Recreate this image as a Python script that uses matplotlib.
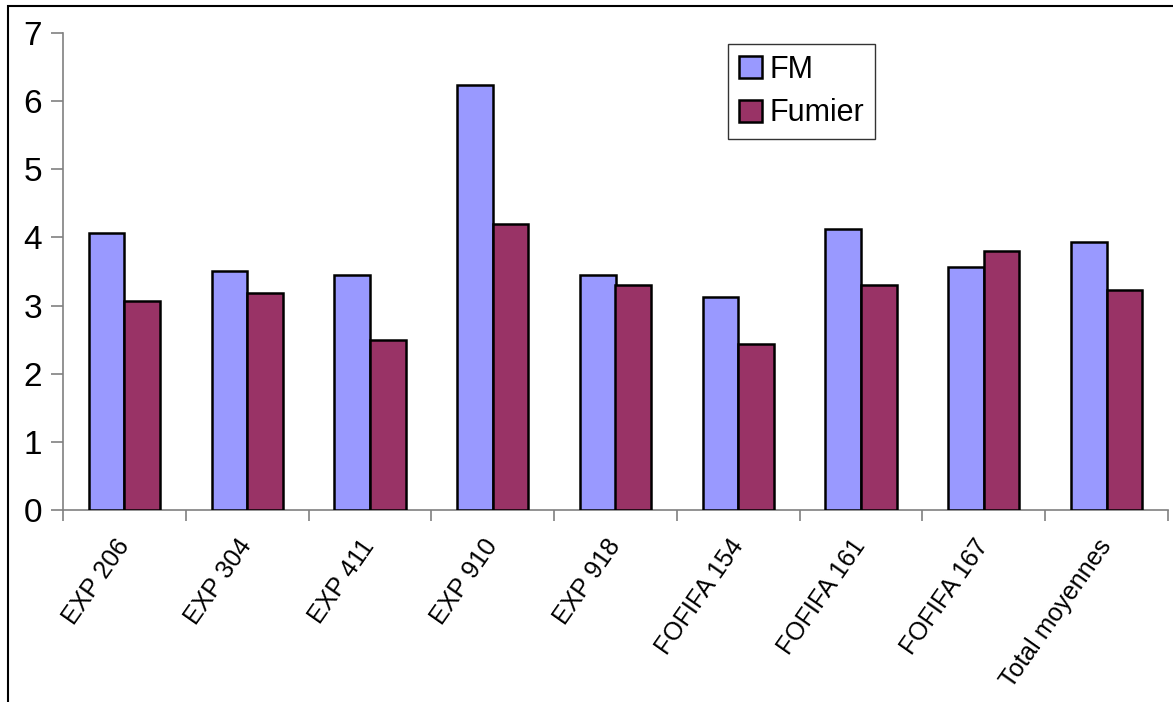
import numpy as np
import matplotlib.pyplot as plt
import matplotlib.transforms as mtransforms
from matplotlib.patches import Rectangle

plt.rcParams['font.family'] = ['Liberation Sans', 'DejaVu Sans']

# Data per variety
categories = ["EXP 206", "EXP 304", "EXP 411", "EXP 910", "EXP 918",
              "FOFIFA 154", "FOFIFA 161", "FOFIFA 167", "Total moyennes"]
fm = [4.07, 3.51, 3.45, 6.24, 3.45, 3.13, 4.13, 3.57, 3.94]
fumier = [3.07, 3.19, 2.50, 4.19, 3.30, 2.44, 3.30, 3.80, 3.23]

W, H = 1173, 702
fig = plt.figure(figsize=(W / 100, H / 100), dpi=100)
ax = fig.add_axes([63 / W, (H - 510) / H, (1168 - 63) / W, (510 - 33) / H])

x = np.arange(len(categories))
bw = 0.29
ax.bar(x - bw / 2, fm, bw, color="#9999FF", edgecolor="black", linewidth=1.8,
       label="FM", zorder=3)
ax.bar(x + bw / 2, fumier, bw, color="#993366", edgecolor="black", linewidth=1.8,
       label="Fumier", zorder=3)

ax.set_xlim(-0.5, len(categories) - 0.5)
ax.set_ylim(0, 7)
ax.set_yticks(range(8))
ax.tick_params(axis="y", labelsize=24, length=9, width=1.2, color="#808080", pad=6)

ax.set_xticks(x)
ax.set_xticklabels(categories, rotation=55, ha="right", rotation_mode="anchor",
                   fontsize=18)
ax.tick_params(axis="x", length=0, pad=18)
# nudge the rotated labels left so they end under the group centre
shift = mtransforms.ScaledTranslation(-10 / 100, 0, fig.dpi_scale_trans)
for lbl in ax.get_xticklabels():
    lbl.set_transform(lbl.get_transform() + shift)
ax.set_xticks(np.arange(-0.5, len(categories)), minor=True)
ax.tick_params(axis="x", which="minor", length=8, width=1.2, color="#808080")

for s in ["top", "right"]:
    ax.spines[s].set_visible(False)
for s in ["left", "bottom"]:
    ax.spines[s].set_color("#808080")
    ax.spines[s].set_linewidth(1.2)

leg = ax.legend(loc="upper left", bbox_to_anchor=((728 - 63) / (1168 - 63), (510 - 44) / (510 - 33)),
                fontsize=22, frameon=True, fancybox=False, edgecolor="black",
                handlelength=0.75, handleheight=0.75, handletextpad=0.25,
                borderpad=0.35, labelspacing=0.45, borderaxespad=0)
leg.get_frame().set_linewidth(1.0)

# outer chart border
fig.patches.append(Rectangle((8 / W, -0.1), 1.2, (H - 6) / H + 0.1, transform=fig.transFigure,
                             fill=False, edgecolor="black", linewidth=1.5))

fig.savefig("out.png", dpi=100)
